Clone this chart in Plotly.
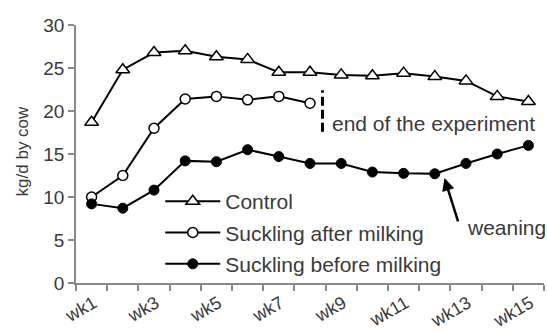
import plotly.graph_objects as go

weeks = ["wk1", "wk2", "wk3", "wk4", "wk5", "wk6", "wk7", "wk8",
         "wk9", "wk10", "wk11", "wk12", "wk13", "wk14", "wk15"]
control = [18.7, 24.8, 26.8, 27.0, 26.3, 26.0, 24.5, 24.5,
           24.2, 24.1, 24.4, 24.0, 23.5, 21.7, 21.1]
after_milking = [10.0, 12.5, 18.0, 21.4, 21.7, 21.3, 21.7, 20.9]
before_milking = [9.2, 8.7, 10.8, 14.2, 14.1, 15.5, 14.7, 13.9,
                  13.9, 12.9, 12.75, 12.7, 13.9, 15.0, 16.0]

font = "Liberation Sans, Arial, sans-serif"
ink = "#3a3a3a"
pos = list(range(len(weeks)))

fig = go.Figure()
fig.add_trace(go.Scatter(
    x=pos, y=control, name="Control", legendgroup="a",
    mode="lines+markers", line=dict(color="black", width=2),
    marker=dict(symbol="triangle-up", size=12, color="white",
                line=dict(color="black", width=1.5))))
fig.add_trace(go.Scatter(
    x=pos[:len(after_milking)], y=after_milking, name="Suckling after milking",
    legendgroup="b", mode="lines+markers", line=dict(color="black", width=2),
    marker=dict(symbol="circle", size=10, color="white",
                line=dict(color="black", width=1.5))))
fig.add_trace(go.Scatter(
    x=pos, y=before_milking, name="Suckling before milking", legendgroup="c",
    mode="lines+markers", line=dict(color="black", width=2),
    marker=dict(symbol="circle", size=10, color="black",
                line=dict(color="black", width=1))))

# end of experiment marker
fig.add_shape(type="line", x0=7.4, x1=7.4, y0=17.6, y1=22.4,
              line=dict(color="black", width=3, dash="9px,4px"))
fig.add_annotation(x=7.65, y=18.6, text="end of the experiment", showarrow=False,
                   xanchor="left", font=dict(size=21, color=ink, family=font))
# weaning arrow
fig.add_annotation(x=11.31, y=12.2, ax=11.76, ay=7.0, axref="x", ayref="y",
                   text="", showarrow=True, arrowhead=2, arrowsize=1,
                   arrowwidth=2.5, arrowcolor="black")
fig.add_annotation(x=11.98, y=6.4, text="weaning", showarrow=False,
                   xanchor="left", font=dict(size=21, color=ink, family=font))
# y title
fig.add_annotation(x=-54 / 468, y=0.51, xref="paper", yref="paper",
                   xanchor="center", yanchor="middle",
                   text="kg/d by cow", textangle=-90, showarrow=False,
                   font=dict(size=17, color=ink, family=font))

fig.update_layout(
    width=547, height=331,
    margin=dict(l=76, r=3, t=25, b=48, autoexpand=False),
    plot_bgcolor="white", paper_bgcolor="white",
    font=dict(family=font, color=ink),
    legend=dict(x=0.18, y=0.395, xanchor="left", yanchor="top",
                font=dict(size=21, color=ink, family=font),
                bgcolor="rgba(0,0,0,0)", tracegroupgap=1, itemwidth=55),
)
fig.update_xaxes(
    range=[-0.5, 14.5], tickmode="array", tickvals=pos[::2], ticktext=weeks[::2],
    tickangle=-30, ticklen=0, showgrid=False, zeroline=False, automargin=False,
    showline=True, linecolor="#8a8a8a", linewidth=1.5,
    ticklabelstandoff=1, ticklabelshift=2,
    tickfont=dict(size=18, color=ink, family=font),
    minor=dict(tickmode="array", tickvals=[i - 0.5 for i in range(len(weeks) + 1)],
               ticks="outside", ticklen=6, tickcolor="#8a8a8a", tickwidth=1.5),
)
fig.update_yaxes(
    range=[0, 30], dtick=5, ticks="outside", ticklen=6, tickcolor="#8a8a8a",
    tickwidth=1.5, showgrid=False, zeroline=False, showline=True, automargin=False,
    linecolor="#8a8a8a", linewidth=1.5,
    tickfont=dict(size=19, color=ink, family=font),
)

fig.write_html("out.html", config={"displayModeBar": False},
               post_script="document.body.style.margin='0';")
